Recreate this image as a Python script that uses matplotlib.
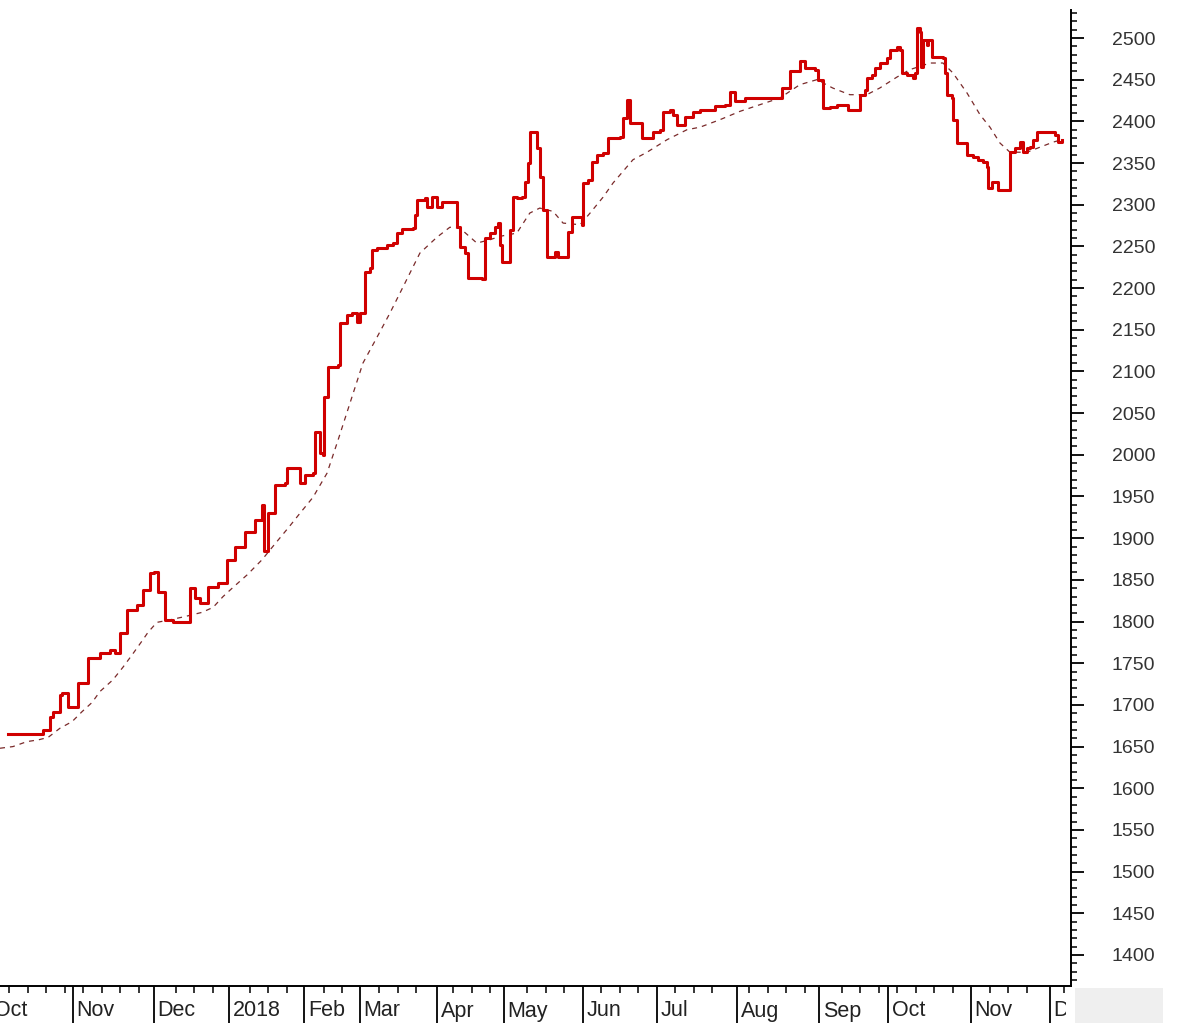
import numpy as np
import matplotlib
matplotlib.use("Agg")
import matplotlib.pyplot as plt
from matplotlib.patches import Rectangle
from matplotlib.ticker import MultipleLocator, FixedLocator, NullFormatter
import matplotlib.transforms as mtransforms

plt.rcParams['font.family'] = ['Liberation Sans', 'DejaVu Sans']

# trading-day index (x) and price (y) of the main series
price_day = [2.2, 10.8, 11.6, 13.5, 14.3, 16.2, 16.8, 18.4, 21.1, 23.8, 27.0, 29.7, 31.1, 32.4,
             34.3, 37.0, 38.6, 40.5, 41.6, 42.7, 44.6, 46.8, 50.5, 51.4, 52.7, 54.1, 56.2, 58.9,
             61.4, 63.5, 66.2, 68.9, 70.8, 71.4, 72.4, 74.3, 74.3, 77.0, 77.6, 79.7, 81.1, 82.4,
             84.6, 85.1, 86.5, 87.3, 87.6, 88.6, 91.4, 91.9, 93.8, 95.1, 96.5, 97.3, 98.6, 98.6,
             100.0, 100.5, 101.9, 104.6, 106.2, 107.3, 108.6, 111.6, 112.2, 112.7, 114.9, 115.4,
             116.8, 118.1, 119.5, 123.0, 123.5, 124.3, 125.7, 126.5, 130.3, 131.1, 132.4, 133.8,
             134.6, 135.1, 135.7, 137.3, 137.8, 138.6, 139.7, 141.1, 141.9, 142.7, 143.2, 144.6,
             145.1, 145.9, 146.8, 147.8, 147.8, 149.5, 150.0, 150.8, 153.2, 153.5, 154.6, 157.3,
             157.6, 158.9, 160.0, 161.4, 163.0, 164.3, 167.6, 168.4, 169.5, 170.3, 172.4, 173.5,
             175.1, 176.5, 178.4, 179.2, 181.1, 181.9, 183.0, 184.3, 185.1, 187.3, 189.2, 191.9,
             193.2, 195.9, 197.3, 198.6, 201.4, 209.5, 211.4, 213.5, 216.2, 217.6, 220.3, 221.1,
             222.4, 224.3, 226.2, 227.8, 229.2, 231.9, 232.4, 233.8, 234.3, 235.7, 236.5, 237.8,
             239.7, 240.5, 242.4, 243.2, 243.8, 245.1, 246.8, 247.3, 247.8, 248.6, 248.9, 249.5,
             250.5, 250.8, 251.9, 254.9, 255.4, 255.9, 257.3, 257.6, 258.6, 260.3, 261.4, 263.0,
             264.3, 265.7, 266.8, 267.0, 268.1, 268.9, 269.7, 272.4, 273.0, 273.0, 274.3, 275.7,
             276.5, 277.6, 278.4, 279.2, 280.3, 283.8, 285.1, 285.9, 287.0]
price = [1665, 1665, 1670, 1685, 1691, 1712, 1714, 1697, 1726, 1756, 1762, 1766, 1762, 1786,
         1814, 1820, 1838, 1858, 1859, 1835, 1802, 1800, 1799, 1840, 1828, 1822, 1841, 1846,
         1874, 1890, 1908, 1922, 1940, 1885, 1930, 1946, 1964, 1966, 1984, 1984, 1966, 1976,
         1978, 2027, 2002, 2000, 2069, 2105, 2108, 2158, 2168, 2170, 2159, 2170, 2194, 2219,
         2224, 2246, 2248, 2252, 2254, 2266, 2271, 2272, 2288, 2306, 2308, 2297,
         2309, 2297, 2303, 2303, 2273, 2249, 2242, 2212, 2211, 2260, 2266, 2273,
         2278, 2252, 2231, 2231, 2270, 2309, 2308, 2309, 2327, 2350, 2387, 2387,
         2368, 2333, 2294, 2290, 2237, 2237, 2243, 2237, 2237, 2267, 2285, 2276,
         2326, 2330, 2351, 2360, 2362, 2380, 2381, 2404, 2426, 2398, 2398, 2380,
         2380, 2387, 2390, 2411, 2414, 2408, 2396, 2396, 2405, 2411, 2414, 2414,
         2418, 2420, 2435, 2425, 2428, 2428, 2440, 2460, 2472, 2464, 2462, 2450,
         2416, 2417, 2420, 2420, 2414, 2414, 2432, 2438, 2452, 2456, 2464, 2470,
         2476, 2486, 2489, 2486, 2458, 2456, 2452, 2458, 2512, 2507, 2465, 2498,
         2492, 2498, 2477, 2476, 2458, 2432, 2428, 2402, 2374, 2374, 2360, 2357,
         2354, 2351, 2345, 2320, 2327, 2327, 2318, 2318, 2350, 2363, 2368, 2375,
         2363, 2368, 2369, 2378, 2387, 2387, 2384, 2375, 2378]

# moving average (dashed)
ma_day = [0.0, 3.5, 7.3, 10.3, 13.0, 16.2, 19.5, 22.2, 24.9, 27.0, 30.5, 33.2, 35.7, 38.6, 40.0,
          42.4, 45.9, 50.0, 54.6, 57.6, 60.3, 63.0, 66.8, 70.8, 74.3, 78.4, 81.1, 84.6, 88.4,
          91.4, 94.6, 98.1, 101.9, 105.4, 108.9, 113.5, 118.1, 121.6, 124.3, 128.9, 132.4,
          135.1, 139.7, 143.2, 145.9, 149.5, 152.2, 156.8, 159.5, 163.0, 165.7, 171.1, 174.9,
          180.3, 185.7, 189.2, 194.6, 200.0, 205.4, 210.8, 216.2, 220.8, 225.1, 229.7, 234.3,
          237.8, 242.4, 245.9, 251.4, 254.9, 257.6, 261.4, 264.9, 267.6, 270.3, 273.0, 277.6,
          281.1, 284.6, 287.0]
ma = [1648, 1650, 1656, 1658, 1661, 1672, 1680, 1692, 1703, 1716, 1730, 1745, 1760, 1778, 1787,
      1799, 1802, 1806, 1811, 1817, 1830, 1841, 1856, 1874, 1893, 1915, 1930, 1949, 1978,
      2018, 2062, 2110, 2141, 2170, 2201, 2242, 2261, 2273, 2272, 2254, 2258,
      2262, 2266, 2290, 2296, 2292, 2278, 2276, 2290, 2309, 2326, 2354, 2363,
      2378, 2390, 2393, 2402, 2412, 2420, 2428, 2444, 2450, 2440, 2432, 2432,
      2440, 2453, 2462, 2470, 2470, 2458, 2434, 2408, 2393, 2374, 2363, 2363,
      2369, 2375, 2378]

# month boundaries (trading-day index) and labels
month_start = [-2.6, 19.7, 41.6, 61.9, 82.2, 97.3, 118.1, 136.2, 157.6, 177.6, 199.2,
               221.4, 240.0, 262.4, 283.8]
month_label = ['Oct', 'Nov', 'Dec', '2018', 'Feb', 'Mar', 'Apr', 'May', 'Jun', 'Jul',
               'Aug', 'Sep', 'Oct', 'Nov', 'Dec']

W, H = 1178, 1023
fig = plt.figure(figsize=(W / 100, H / 100), dpi=100, facecolor='white')
ax = fig.add_axes([0, 1 - 986 / H, 1071 / W, (986 - 10) / H])

ax.plot(ma_day, ma, color='#7a2a2a', lw=0.9, ls=(0, (4, 4)), zorder=2)
ax.plot(price_day, price, color='#d00000', lw=2.2, zorder=3, drawstyle='steps-post')

ax.set_xlim(0, 289.5)
ax.set_ylim(1362.8, 2533.6)

for s in ['left', 'top']:
    ax.spines[s].set_visible(False)
for s in ['right', 'bottom']:
    ax.spines[s].set_linewidth(1.4)
    ax.spines[s].set_color('black')

# right price axis
ax.yaxis.tick_right()
ax.yaxis.set_major_locator(FixedLocator(np.arange(1400, 2501, 50)))
ax.yaxis.set_minor_locator(MultipleLocator(10))
ax.tick_params(axis='y', which='major', length=9.5, width=1.3, pad=20, labelsize=14,
               labelcolor='#333333', direction='out')
ax.tick_params(axis='y', which='minor', length=4.5, width=1.1, direction='out')

# bottom month axis: long separators + weekly ticks
ax.xaxis.set_major_locator(FixedLocator(month_start))
ax.xaxis.set_major_formatter(NullFormatter())
weeks = [d for d in np.arange(2.5, 289, 5) if min(abs(d - m) for m in month_start) > 2]
ax.xaxis.set_minor_locator(FixedLocator(weeks))
ax.tick_params(axis='x', which='major', length=28, width=1.3, direction='out')
ax.tick_params(axis='x', which='minor', length=5, width=1.1, direction='out')

trans = mtransforms.blended_transform_factory(ax.transData, fig.transFigure)
for d, lab in zip(month_start, month_label):
    ax.text(d + 1.0, 1 - 1011 / H, lab, transform=trans, ha='left', va='center',
            fontsize=15.5, color='#222222', clip_on=False)

# label strip ends at the price axis, grey corner box after it
fig.patches.append(Rectangle((1066 / W, 0), (1075 - 1066) / W, 1 - 988 / H,
                             transform=fig.transFigure, facecolor='white',
                             edgecolor='none', zorder=5))
fig.patches.append(Rectangle((1075 / W, 0), (1163 - 1075) / W, 1 - 988 / H,
                             transform=fig.transFigure, facecolor='#efefef',
                             edgecolor='none', zorder=5))

fig.savefig('out.png', dpi=100, facecolor='white')
